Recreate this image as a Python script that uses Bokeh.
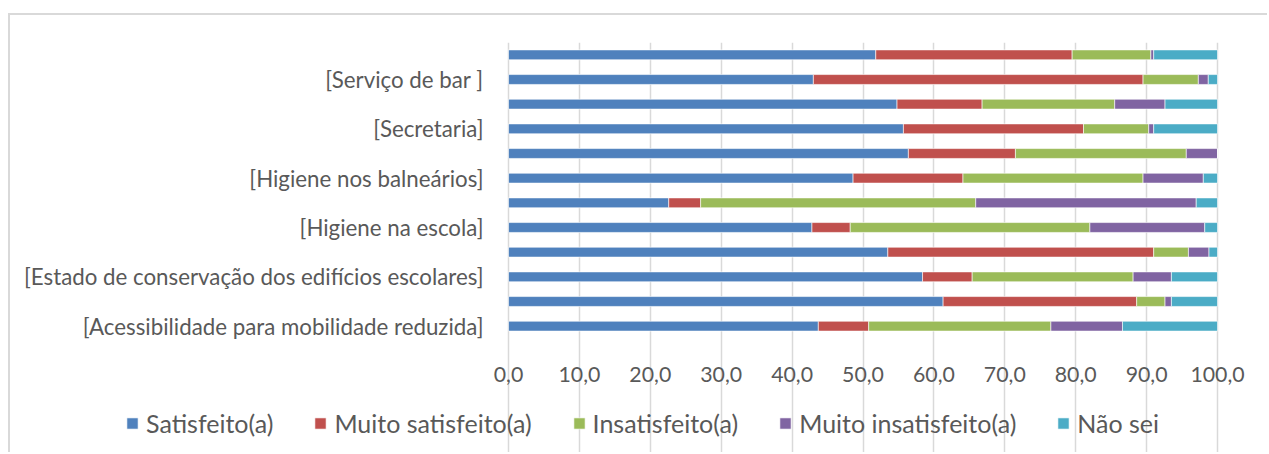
from bokeh.plotting import figure
from bokeh.models import Range1d, FixedTicker, Legend, LegendItem, ColumnDataSource, Grid
from bokeh.core.properties import value
from bokeh.embed import file_html
from bokeh.resources import INLINE

# bottom-to-top order (empty labels are skipped by the axis, as in the original)
categories = [
    "[Acessibilidade para mobilidade reduzida]", "",
    "[Estado de conservação dos edifícios escolares]", "",
    "[Higiene na escola]", "",
    "[Higiene nos balneários]", "",
    "[Secretaria]", "",
    "[Serviço de bar ]", "",
]
series = ["Satisfeito(a)", "Muito satisfeito(a)", "Insatisfeito(a)", "Muito insatisfeito(a)", "Não sei"]
satisfeito       = [43.7, 61.3, 58.4, 53.5, 42.8, 22.6, 48.6, 56.4, 55.7, 54.8, 43.0, 51.8]
muito_satisfeito = [7.1, 27.3, 7.0, 37.5, 5.4, 4.5, 15.5, 15.1, 25.4, 12.0, 46.5, 27.7]
insatisfeito     = [25.7, 4.0, 22.7, 4.9, 33.8, 38.8, 25.4, 24.1, 9.2, 18.7, 7.8, 11.1]
muito_insat      = [10.1, 0.9, 5.4, 2.9, 16.2, 31.1, 8.5, 4.4, 0.7, 7.1, 1.4, 0.4]
nao_sei          = [13.4, 6.5, 6.5, 1.2, 1.8, 3.0, 2.0, 0.0, 9.0, 7.4, 1.3, 9.0]
x_ticks = [0, 10, 20, 30, 40, 50, 60, 70, 80, 90, 100]
x_tick_labels = [f"{t:.1f}".replace(".", ",") for t in x_ticks]
colors = ["#4f81bd", "#c0504d", "#9bbb59", "#8064a2", "#4bacc6"]

n = len(categories)
ypos = list(range(n))
src = ColumnDataSource(dict(
    y=ypos,
    s0=satisfeito, s1=muito_satisfeito, s2=insatisfeito, s3=muito_insat, s4=nao_sei,
))

FONT = "Lato"
TXT = "#595959"
GRID = "#d9d9d9"

# layout in canvas pixels (canvas starts at page (10, 15) after margin + border).
# The frame is widened left/right and extended down so the legend and tick
# labels (drawn inside the frame) are not clipped; bars keep their places.
CW, CH = 1259, 439
FRAME_L, PX0, PX100, FRAME_R = 92, 498, 1207, 1250
FRAME_T, FRAME_B = 27, 437
BAR_AREA_H = 296
unit = BAR_AREA_H / n
px_per_val = (PX100 - PX0) / 100.0
x_start = -(PX0 - FRAME_L) / px_per_val
x_end = 100 + (FRAME_R - PX100) / px_per_val
y_top = n - 0.5
y_start = y_top - (FRAME_B - FRAME_T) / unit
tick_label_y = y_top - (359 - FRAME_T) / unit

p = figure(width=CW, height=CH, output_backend="svg", toolbar_location=None,
           x_axis_location=None,
           x_range=Range1d(x_start, x_end), y_range=Range1d(y_start, y_top),
           min_border_left=FRAME_L, min_border_right=CW - FRAME_R,
           min_border_top=FRAME_T, min_border_bottom=CH - FRAME_B)
p.styles = {"border-left": "2px solid #d9d9d9", "border-top": "2px solid #d9d9d9"}
p.margin = (13, 0, 0, 8)
p.outline_line_color = None
p.background_fill_color = "white"
p.border_fill_color = "white"
p.xgrid.visible = False
p.ygrid.visible = False

# value gridlines, limited to the bar area
grid = Grid(dimension=0, ticker=FixedTicker(ticks=x_ticks), bounds=(-0.5, y_top),
            grid_line_color=GRID, grid_line_width=1.5)
p.add_layout(grid)

rs = p.hbar_stack(["s0", "s1", "s2", "s3", "s4"], y="y", height=0.4, color=colors,
                  line_color="white", line_width=0.6, source=src)

# value tick labels under the bars
p.text(x=x_ticks, y=[tick_label_y] * len(x_ticks), text=x_tick_labels,
       text_align="center", text_baseline="middle",
       text_font=value(FONT), text_font_size="21.3px", text_color=TXT)

# category axis: labels pulled in to sit just left of value 0
lab_idx = [i for i, c in enumerate(categories) if c]
p.yaxis.ticker = FixedTicker(ticks=lab_idx)
p.yaxis.major_label_overrides = {i: categories[i] for i in lab_idx}
p.yaxis.axis_line_color = None
p.yaxis.major_tick_line_color = None
p.yaxis.major_tick_out = 0
p.yaxis.major_tick_in = 0
p.yaxis.minor_tick_line_color = None
p.yaxis.major_label_text_font = FONT
p.yaxis.major_label_text_font_size = "22.3px"
p.yaxis.major_label_text_color = TXT
p.yaxis.major_label_standoff = -(PX0 - FRAME_L - 25)

legend = Legend(items=[LegendItem(label=s, renderers=[r]) for s, r in zip(series, rs)],
                orientation="horizontal", location=(115 - FRAME_L, 14),
                glyph_width=14, glyph_height=14, label_standoff=7, spacing=40,
                label_height=30,
                padding=0, margin=0, border_line_color=None, background_fill_alpha=0,
                label_text_font=FONT, label_text_font_size="25px", label_text_color=TXT)
p.add_layout(legend)

open("out.html", "w").write(file_html(p, INLINE))
